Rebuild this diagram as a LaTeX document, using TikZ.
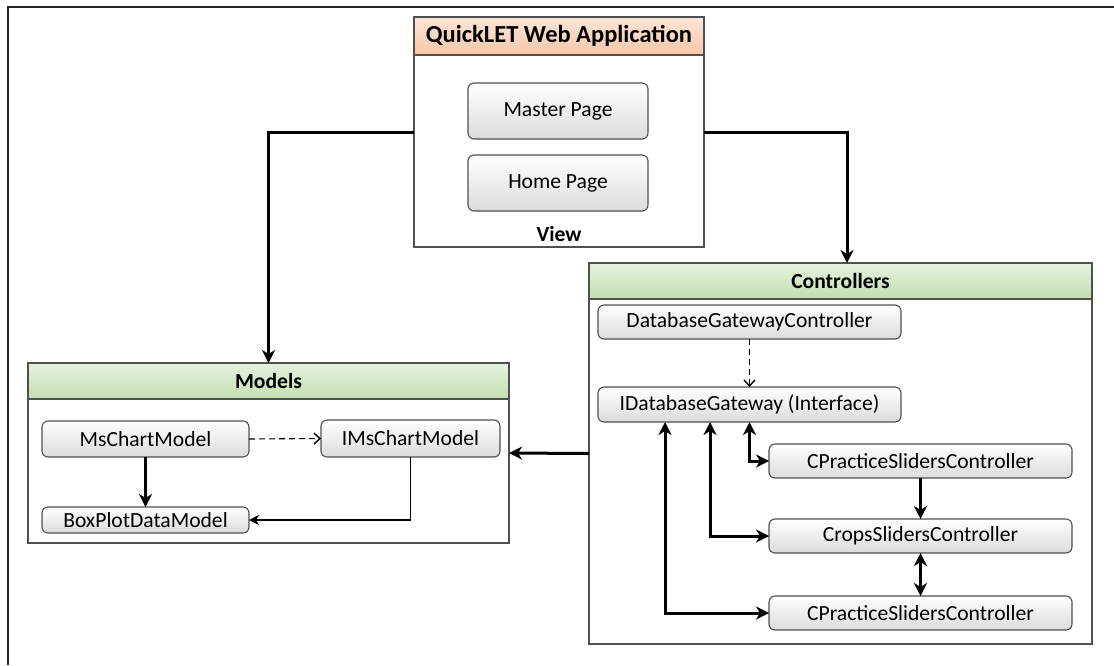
\documentclass[tikz,border=0pt]{standalone}
\usepackage{fontspec}
\setmainfont{Carlito}
\usetikzlibrary{%
        arrows.meta,
        positioning
    }
\definecolor{peachtop}{RGB}{252, 230, 216}
\definecolor{peachbot}{RGB}{246, 198, 166}
\definecolor{leaftop}{RGB}{230, 242, 222}
\definecolor{leafbot}{RGB}{194, 223, 176}
\definecolor{edge}{RGB}{80, 80, 80}
\tikzset{%
    body/.style={draw=edge, line width=1.3pt, fill=white},
    head/.style={draw=edge, line width=1.3pt, font=\bfseries\fontsize{21.6}{26}\selectfont},
    viewhead/.style={head, top color=peachtop, bottom color=peachbot},
    grouphead/.style={head, top color=leaftop, bottom color=leafbot},
    item/.style={draw=edge, line width=1.1pt, rounded corners=6pt,
        top color=white, bottom color=black!14,
        font=\fontsize{21.6}{26}\selectfont},
    link/.style={line width=3pt, -{Stealth[length=13pt, width=13pt, inset=4pt]}},
    twoway/.style={line width=3pt, {Stealth[length=13pt, width=13pt, inset=4pt]}-{Stealth[length=13pt, width=13pt, inset=4pt]}},
    thin/.style={line width=1.4pt, -{Stealth[length=10pt, width=10pt, inset=3pt]}},
    usage/.style={line width=1.1pt, dash pattern=on 6pt off 4pt,
        -{Straight Barb[length=6pt, width=11pt, line width=1.4pt]}}
}

\begin{document}
\begin{tikzpicture}[x=1pt, y=-1pt, inner sep=0pt, outer sep=0pt]

    \useasboundingbox (0, 0) rectangle (1114, 665);
    \draw[line width=2.2pt, black!85] (1114, 7) -- (8, 7) -- (8, 665);

    % View
    \node[body, minimum width=290pt, minimum height=230pt] (view) at (559, 132) {};
    \node[viewhead, minimum width=290pt, minimum height=38pt] (viewhead) at (559, 36)
        {\fontsize{24.5}{28}\selectfont QuickLET Web Application};
    \node[item, minimum width=180pt, minimum height=56pt] (master) at (558, 111) {Master Page};
    \node[item, minimum width=180pt, minimum height=56pt] (home) at (558, 183) {Home Page};
    \node[font=\bfseries\fontsize{21.6}{26}\selectfont] (viewlabel) at (559, 234) {View};

    % Models
    \node[body, minimum width=481pt, minimum height=180pt] (models) at (268.5, 453) {};
    \node[grouphead, minimum width=481pt, minimum height=36pt] (modelshead) at (268.5, 381) {Models};
    \node[item, minimum width=207pt, minimum height=36pt] (mschart) at (145.5, 439) {MsChartModel};
    \node[item, minimum width=179pt, minimum height=37pt] (imschart) at (410.5, 438.5) {IMsChartModel};
    \node[item, minimum width=207pt, minimum height=26pt] (boxplot) at (145.5, 520) {BoxPlotDataModel};

    % Controllers
    \node[body, minimum width=503pt, minimum height=381pt] (ctrl) at (840.5, 453.5) {};
    \node[grouphead, minimum width=503pt, minimum height=36pt] (ctrlhead) at (840.5, 281) {Controllers};
    \node[item, minimum width=303pt, minimum height=34pt] (gatectrl) at (749.5, 322) {DatabaseGatewayController};
    \node[item, minimum width=303pt, minimum height=35pt] (gateway) at (749.5, 404.5) {IDatabaseGateway (Interface)};
    \node[item, minimum width=303pt, minimum height=34pt] (practice1) at (920.5, 461) {CPracticeSlidersController};
    \node[item, minimum width=303pt, minimum height=34pt] (crops) at (920.5, 536) {CropsSlidersController};
    \node[item, minimum width=303pt, minimum height=34pt] (practice2) at (920.5, 613) {CPracticeSlidersController};


    % View to models and controllers
    \draw[link] (view.west) -| (modelshead.north);
    \draw[link] (view.east) -| ([xshift=6.5pt] ctrlhead.north);
    \draw[link] (ctrl.west) -- (models.east);

    % Inside models
    \draw[usage] (mschart.east) -- (imschart.west);
    \draw[link] (mschart.south) -- (boxplot.north);
    \draw[thin] (imschart.south) |- (boxplot.east);

    % Inside controllers
    \draw[usage] (gatectrl.south) -- (gateway.north);
    \draw[twoway] (gateway.south) |- (practice1.west);
    \draw[twoway] ([xshift=-39.5pt] gateway.south) |- (crops.west);
    \draw[twoway] ([xshift=-84.5pt] gateway.south) |- (practice2.west);
    \draw[link] (practice1.south) -- (crops.north);
    \draw[twoway] (crops.south) -- (practice2.north);

\end{tikzpicture}
\end{document}
